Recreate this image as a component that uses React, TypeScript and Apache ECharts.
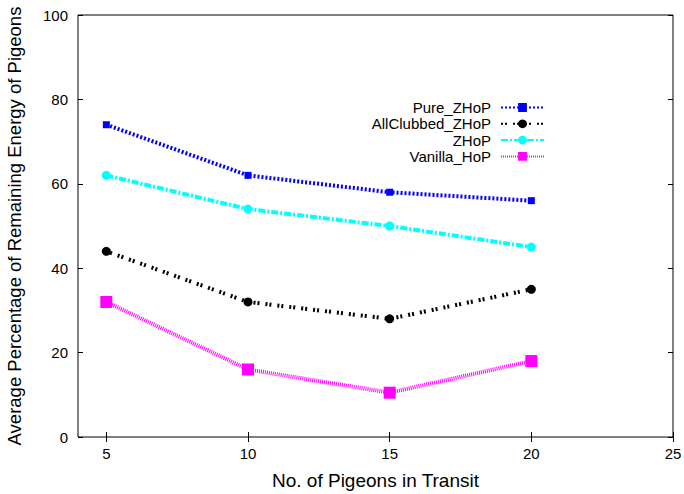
import React, { useEffect, useRef } from "react";
import * as echarts from "echarts";

const xValues = [5, 10, 15, 20];
const pureZHoP = [74, 62, 58, 56];
const allClubbedZHoP = [44, 32, 28, 35];
const zHoP = [62, 54, 50, 45];
const vanillaHoP = [32, 16, 10.5, 18];
const xTicks = [5, 10, 15, 20, 25];
const yTicks = [0, 20, 40, 60, 80, 100];

const FONT = "'Liberation Sans', Arial, Helvetica, sans-serif";

function pairs(vals: number[]) {
  return xValues.map((x, i) => [x, vals[i]]);
}

export default function App() {
  const ref = useRef<HTMLDivElement>(null);
  useEffect(() => {
    if (!ref.current) return;
    const chart = echarts.init(ref.current, null, { renderer: "svg" });
    const tickStyle = { show: true, inside: true, length: 5, lineStyle: { color: "#000", width: 1 } };
    const mkSeries = (name: string, vals: number[], color: string, dash: number[], symbol: string, size: number, width: number) => ({
      name,
      type: "line",
      data: pairs(vals),
      symbol,
      symbolSize: size,
      itemStyle: { color },
      lineStyle: { color, width, type: dash },
      emphasis: { disabled: true },
    });
    chart.setOption({
      animation: false,
      textStyle: { fontFamily: FONT },
      grid: {
        left: 78, right: 11, top: 15, bottom: 57,
        outerBoundsMode: "none",
        containLabel: false,
        show: true, borderColor: "#000", borderWidth: 1, backgroundColor: "transparent",
      },
      legend: {
        orient: "vertical",
        right: 134,
        top: 95,
        align: "right",
        itemWidth: 43,
        itemHeight: 11,
        itemGap: 1.3,
        textStyle: { fontFamily: FONT, fontSize: 15, color: "#000", lineHeight: 15, padding: [0, 5, 0, 0] },
        data: ["Pure_ZHoP", "AllClubbed_ZHoP", "ZHoP", "Vanilla_HoP"],
      },
      xAxis: [
        {
          type: "value",
          min: 4,
          max: 25,
          name: "No. of Pigeons in Transit",
          nameLocation: "middle",
          nameGap: 34,
          nameTextStyle: { fontFamily: FONT, fontSize: 19, color: "#000" },
          axisLine: { show: false },
          axisTick: { ...tickStyle, customValues: xTicks },
          axisLabel: { customValues: xTicks, color: "#000", fontSize: 15, fontFamily: FONT, margin: 9 },
          splitLine: { show: false },
        },
        {
          type: "value",
          position: "top",
          min: 4,
          max: 25,
          axisLine: { show: false },
          axisTick: { ...tickStyle, customValues: xTicks },
          axisLabel: { show: false, customValues: xTicks },
          splitLine: { show: false },
        },
      ],
      yAxis: [
        {
          type: "value",
          min: 0,
          max: 100,
          interval: 20,
          name: "Average Percentage of Remaining Energy of Pigeons",
          nameLocation: "middle",
          nameGap: 54,
          nameTextStyle: { fontFamily: FONT, fontSize: 18.5, color: "#000" },
          axisLine: { show: false },
          axisTick: tickStyle,
          axisLabel: { customValues: yTicks, color: "#000", fontSize: 15, fontFamily: FONT, margin: 10 },
          splitLine: { show: false },
        },
        {
          type: "value",
          position: "right",
          min: 0,
          max: 100,
          interval: 20,
          axisLine: { show: false },
          axisTick: tickStyle,
          axisLabel: { show: false },
          splitLine: { show: false },
        },
      ],
      series: [
        mkSeries("Pure_ZHoP", pureZHoP, "#0000ff", [2, 2], "rect", 7, 4),
        mkSeries("AllClubbed_ZHoP", allClubbedZHoP, "#000000", [2, 2, 2, 6], "circle", 9, 4),
        mkSeries("ZHoP", zHoP, "#00ffff", [7, 2, 2, 2], "circle", 9, 4),
        mkSeries("Vanilla_HoP", vanillaHoP, "#ff00ff", [1, 1], "rect", 12, 4),
      ],
    });
    return () => chart.dispose();
  }, []);
  return <div ref={ref} style={{ width: 684, height: 494, position: "absolute", left: 0, top: 0, background: "#fff" }} />;
}
